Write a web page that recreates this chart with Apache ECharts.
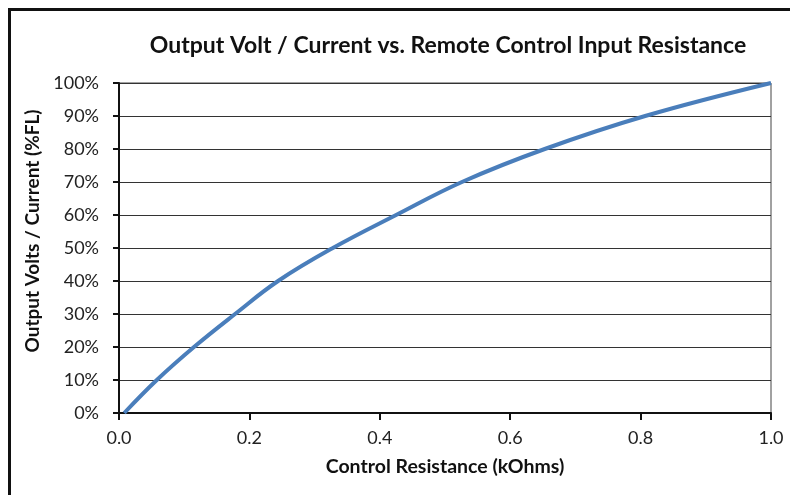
<!DOCTYPE html>
<html>
<head>
<meta charset="utf-8">
<script src="https://cdn.jsdelivr.net/npm/echarts@6/dist/echarts.min.js"></script>
<style>
  html, body { margin: 0; padding: 0; background: #fff; overflow: hidden; }
  .frame {
    position: absolute;
    left: 8px;
    top: 8px;
    width: 800px;
    height: 500px;
    border: 3px solid #111;
    box-sizing: border-box;
  }
  #chart { position: absolute; left: 0; top: 0; width: 790px; height: 495px; }
</style>
</head>
<body>
<div class="frame"></div>
<div id="chart"></div>
<script>
// control resistance (kOhms) and output level (%FL)
const resistance = [0.008, 0.058, 0.115, 0.178, 0.244, 0.328, 0.425, 0.526, 0.653, 0.807, 1.0];
const outputPct = [0, 10, 20, 30, 40, 50, 60, 70, 80, 90, 100];

const chart = echarts.init(document.getElementById("chart"));
const fontFamily = "Lato, 'Open Sans', sans-serif";

chart.setOption({
  animation: false,
  title: {
    text: "Output Volt / Current vs. Remote Control Input Resistance",
    left: 443,
    top: 29,
    textAlign: "center",
    textStyle: {
      fontFamily: fontFamily,
      fontSize: 23,
      fontWeight: "bold",
      color: "#111",
    },
  },
  grid: {
    left: 119,
    right: 19,
    top: 83,
    bottom: 82,
    show: true,
    borderColor: "#444",
    borderWidth: 1,
  },
  xAxis: {
    type: "value",
    min: 0,
    max: 1,
    interval: 0.2,
    name: "Control Resistance (kOhms)",
    nameLocation: "middle",
    nameGap: 44,
    nameTextStyle: {
      fontFamily: fontFamily,
      fontSize: 19.5,
      fontWeight: "bold",
      color: "#111",
    },
    axisLine: { show: true, lineStyle: { color: "#111", width: 2 } },
    axisTick: { show: true, length: 7, lineStyle: { color: "#111", width: 2 } },
    axisLabel: {
      margin: 16,
      fontFamily: fontFamily,
      fontSize: 18,
      color: "#222",
      formatter: (v) => v.toFixed(1),
    },
    splitLine: { show: false },
  },
  yAxis: {
    type: "value",
    min: 0,
    max: 100,
    interval: 10,
    name: "Output Volts / Current (%FL)",
    nameLocation: "middle",
    nameGap: 65,
    nameTextStyle: {
      fontFamily: fontFamily,
      fontSize: 19,
      fontWeight: "bold",
      color: "#111",
      padding: [0, 0, 0, 34],
    },
    axisLine: { show: true, lineStyle: { color: "#111", width: 2 } },
    axisTick: { show: true, length: 6, lineStyle: { color: "#111", width: 2 } },
    axisLabel: {
      margin: 20,
      fontFamily: fontFamily,
      fontSize: 18,
      color: "#222",
      formatter: "{value}%",
    },
    splitLine: { show: true, lineStyle: { color: "#333", width: 1.2 } },
  },
  series: [
    {
      type: "line",
      data: resistance.map((r, i) => [r, outputPct[i]]),
      smooth: 0.4,
      symbol: "none",
      lineStyle: { color: "#4a7ebb", width: 4 },
    },
  ],
});
</script>
</body>
</html>
